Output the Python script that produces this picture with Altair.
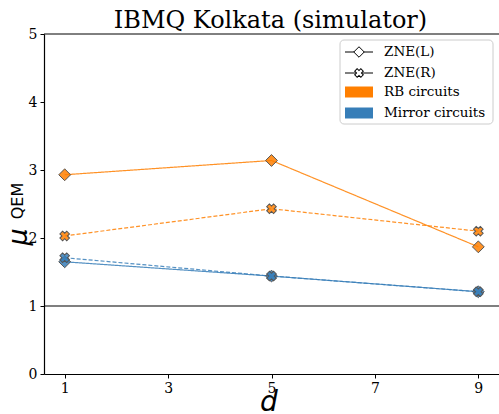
import altair as alt
import pandas as pd

# ---- data ----
d_values = [1, 5, 9]
rb_zne_l = [2.93, 3.14, 1.87]
rb_zne_r = [2.03, 2.43, 2.10]
mirror_zne_l = [1.65, 1.44, 1.21]
mirror_zne_r = [1.71, 1.44, 1.21]
circuits = ["RB circuits", "Mirror circuits"]
methods = ["ZNE(L)", "ZNE(R)"]
x_ticks = [1, 3, 5, 7, 9]
y_ticks = [0, 1, 2, 3, 4, 5]
title_text = "IBMQ Kolkata (simulator)"
legend_labels = ["ZNE(L)", "ZNE(R)", "RB circuits", "Mirror circuits"]

rows = []
for circ, meth, vals in [
    ("RB circuits", "ZNE(L)", rb_zne_l),
    ("RB circuits", "ZNE(R)", rb_zne_r),
    ("Mirror circuits", "ZNE(L)", mirror_zne_l),
    ("Mirror circuits", "ZNE(R)", mirror_zne_r),
]:
    for d, v in zip(d_values, vals):
        rows.append({"d": d, "mu": v, "circuit": circ, "method": meth})
df = pd.DataFrame(rows)
one = pd.DataFrame({"k": [0]})

W, H = 455, 340
PL, PT = 44, 34
ORANGE, BLUE = "#ff7f00", "#377eb8"
color_scale = alt.Scale(domain=circuits, range=[ORANGE, BLUE])

x = alt.X("d:Q", scale=alt.Scale(domain=[0.6, 9.4], nice=False, zero=False),
          axis=alt.Axis(values=x_ticks, title=None, labelPadding=3, format="d"))
y = alt.Y("mu:Q", scale=alt.Scale(domain=[0, 5], nice=False),
          axis=alt.Axis(values=y_ticks, title=None, labelPadding=3, format="d"))
color = alt.Color("circuit:N", scale=color_scale, legend=None)

base = alt.Chart(df)

lines = base.mark_line(strokeWidth=1.2, opacity=0.85).encode(
    x=x, y=y, color=color,
    strokeDash=alt.StrokeDash("method:N", scale=alt.Scale(domain=methods, range=[[1, 0], [4, 2]]), legend=None),
)

diamonds = base.transform_filter(alt.datum.method == "ZNE(L)").mark_point(
    shape="diamond", filled=True, size=140, stroke="#555555", strokeWidth=1, opacity=1, fillOpacity=0.85
).encode(x=x, y=y, color=color)

crosses = base.transform_filter(alt.datum.method == "ZNE(R)").mark_point(
    shape="cross", angle=45, filled=True, size=95, stroke="#555555", strokeWidth=1, opacity=1, fillOpacity=0.85
).encode(x=x, y=y, color=color)

hline = alt.Chart(one).mark_rule(color="black", strokeWidth=1.2).encode(y=alt.datum(1))

top_spine = alt.Chart(one).mark_rule(color="black", strokeWidth=1).encode(
    x=alt.value(0), x2=alt.value(W), y=alt.value(0))

# title and axis titles
title = alt.Chart(one).mark_text(font="DejaVu Serif", fontSize=24, color="black",
                                 align="center", baseline="alphabetic").encode(
    x=alt.value(W / 2 - 1), y=alt.value(-6), text=alt.value(title_text))
mu_lab = alt.Chart(one).mark_text(font="DejaVu Sans", fontStyle="italic", fontSize=27, color="black",
                                  align="center", baseline="middle", angle=270).encode(
    x=alt.value(-25), y=alt.value(203), text=alt.value("μ"))
qem_lab = alt.Chart(one).mark_text(font="DejaVu Sans", fontSize=16, color="black",
                                   align="center", baseline="middle", angle=270).encode(
    x=alt.value(-26), y=alt.value(167), text=alt.value("QEM"))
d_lab = alt.Chart(one).mark_text(font="DejaVu Sans", fontStyle="italic", fontSize=28, color="black",
                                 align="center", baseline="middle").encode(
    x=alt.value(225), y=alt.value(369), text=alt.value("d"))

# custom legend
lx0, lx1, lxm, ltx = 301, 329, 315, 340
ly = [18, 39, 58, 79]
legend_box = alt.Chart(one).mark_rect(cornerRadius=4, fill="white", fillOpacity=0.8,
                                      stroke="#cccccc", strokeWidth=1).encode(
    x=alt.value(296), x2=alt.value(449), y=alt.value(6), y2=alt.value(90))
leg_layers = [legend_box]
for yy in ly[:2]:
    leg_layers.append(alt.Chart(one).mark_rule(color="black", strokeWidth=1).encode(
        x=alt.value(lx0), x2=alt.value(lx1), y=alt.value(yy)))
leg_layers.append(alt.Chart(one).mark_point(shape="diamond", filled=True, fill="white", stroke="black",
                                            strokeWidth=1, size=110, opacity=1).encode(
    x=alt.value(lxm), y=alt.value(ly[0])))
leg_layers.append(alt.Chart(one).mark_point(shape="cross", angle=45, filled=True, fill="white", stroke="black",
                                            strokeWidth=1, size=75, opacity=1).encode(
    x=alt.value(lxm), y=alt.value(ly[1])))
for yy, col in zip(ly[2:], [ORANGE, BLUE]):
    leg_layers.append(alt.Chart(one).mark_rect(color=col).encode(
        x=alt.value(lx0), x2=alt.value(lx1), y=alt.value(yy - 5.5), y2=alt.value(yy + 5.5)))
for yy, lab in zip(ly, legend_labels):
    leg_layers.append(alt.Chart(one).mark_text(font="DejaVu Serif", fontSize=13.5, color="black",
                                               align="left", baseline="middle").encode(
        x=alt.value(ltx), y=alt.value(yy), text=alt.value(lab)))

chart = alt.layer(
    hline, lines, diamonds, crosses, top_spine, title, mu_lab, qem_lab, d_lab, *leg_layers
).properties(
    width=W, height=H,
    autosize=alt.AutoSizeParams(type="none"),
    padding={"left": PL, "top": PT, "right": 0, "bottom": 40},
).configure_view(stroke=None).configure_axis(
    labelFont="DejaVu Serif", labelFontSize=14, labelColor="black",
    domainColor="black", domainWidth=1.2, tickColor="black", tickSize=4, tickWidth=1, grid=False,
)

chart.save("out.html", embed_options={"renderer": "svg", "actions": False})
